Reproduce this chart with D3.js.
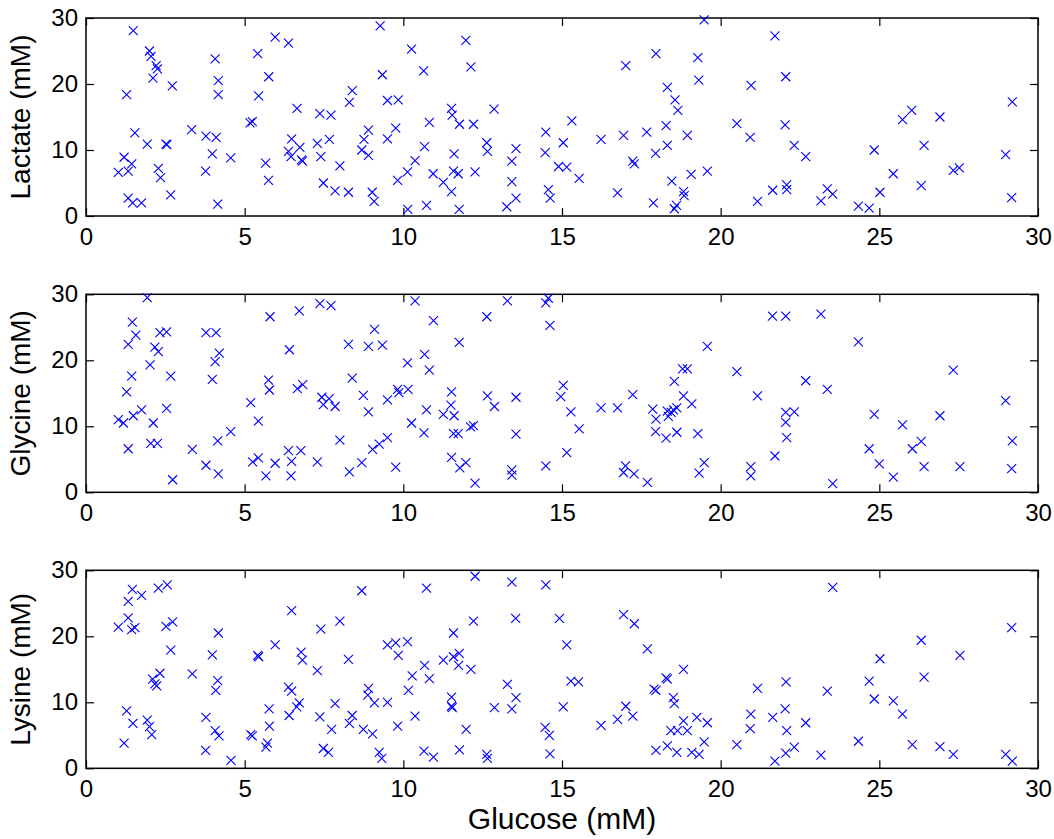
<!DOCTYPE html>
<html><head><meta charset="utf-8">
<script src="https://cdn.jsdelivr.net/npm/d3@7"></script>
<style>body{margin:0;background:#fff;} svg{display:block;font-family:"Liberation Sans",Arial,sans-serif;}</style>
</head><body>
<svg id="c" width="1054" height="839"></svg>
<script>
const xTicks = [0,5,10,15,20,25,30];
const yTicks = [0,10,20,30];
const xLabel = "Glucose (mM)";
const panelLabels = ["Lactate (mM)","Glycine (mM)","Lysine (mM)"];

const lactate = [[1.49,28.1],[2.0,25.0],[2.05,24.2],[2.21,22.8],[2.25,22.3],[2.11,20.9],[2.72,19.7],[1.28,18.4],[4.07,23.8],[4.17,20.5],[4.17,18.4],[5.41,24.6],[5.96,27.1],[6.38,26.2],[5.76,21.1],[5.44,18.2],[6.65,16.3],[7.37,15.5],[7.72,15.3],[1.54,12.6],[1.93,10.9],[2.52,10.9],[2.55,10.8],[3.33,13.1],[3.78,12.1],[4.10,11.9],[3.98,9.4],[4.56,8.8],[1.20,8.9],[1.44,7.9],[1.02,6.6],[1.33,6.8],[2.28,7.2],[2.35,5.8],[3.77,6.8],[1.33,2.7],[1.47,2.0],[1.75,2.0],[2.67,3.2],[4.15,1.8],[5.17,14.1],[5.24,14.3],[6.48,11.7],[6.74,10.4],[6.38,9.8],[6.46,9.0],[6.79,8.5],[6.82,8.3],[7.29,11.0],[7.40,9.0],[7.67,11.6],[5.66,8.0],[5.75,5.4],[7.48,5.0],
[9.27,28.8],[10.26,25.3],[11.97,26.6],[12.13,22.6],[10.64,22.0],[9.34,21.4],[8.39,19.0],[8.30,17.2],[9.50,17.5],[9.84,17.6],[11.52,16.3],[11.54,15.3],[11.77,13.9],[12.21,13.9],[12.86,16.2],[10.82,14.2],[8.90,13.0],[8.76,11.6],[8.69,10.0],[8.90,9.2],[9.76,13.3],[9.50,11.7],[8.00,7.6],[7.85,3.8],[8.27,3.6],[9.02,3.6],[9.08,2.2],[9.82,5.4],[10.13,6.7],[10.37,8.4],[10.67,10.5],[10.14,1.0],[10.73,1.6],[10.94,6.4],[11.26,5.1],[11.52,3.7],[11.58,6.8],[11.73,6.4],[11.60,9.4],[11.76,1.0],[12.26,6.7],[12.63,11.1],[12.65,9.8],[13.55,10.2],[13.42,8.3],[13.42,5.2],[13.26,1.4],[13.55,2.7],[14.49,12.7],[14.47,9.6],[15.04,11.1],[14.89,7.5],[15.15,7.4],[14.57,4.0],[14.63,2.7],[15.31,14.4],
[19.48,29.7],[21.71,27.3],[17.96,24.6],[19.28,24.0],[17.01,22.8],[19.31,20.6],[18.32,19.5],[20.96,19.8],[22.05,21.1],[18.56,17.6],[18.65,16.0],[16.23,11.6],[16.94,12.2],[17.67,12.7],[18.28,13.7],[18.95,12.2],[18.32,10.7],[17.95,9.5],[20.51,14.0],[20.93,11.9],[22.03,13.8],[22.32,10.7],[22.68,9.0],[15.54,5.7],[17.23,8.3],[17.28,7.9],[16.75,3.5],[17.88,2.0],[18.46,5.3],[19.07,6.3],[19.58,6.8],[18.83,3.7],[18.85,3.1],[18.61,1.6],[18.54,1.1],[21.16,2.2],[21.64,3.9],[22.08,4.7],[22.08,4.0],
[29.19,17.3],[26.02,16.0],[25.73,14.6],[26.91,15.0],[26.41,10.7],[24.84,10.0],[28.98,9.3],[25.44,6.4],[27.33,6.9],[27.52,7.3],[26.32,4.6],[25.02,3.6],[23.36,4.1],[23.53,3.3],[23.16,2.3],[24.34,1.5],[24.68,1.2],[29.17,2.8]];

const glycine = [[1.93,29.5],[1.46,25.8],[1.57,23.8],[1.33,22.4],[2.33,24.2],[2.54,24.3],[2.17,22.0],[2.28,21.3],[2.02,19.3],[1.44,17.6],[2.67,17.6],[1.28,15.2],[3.78,24.2],[4.10,24.2],[4.20,21.1],[4.07,19.8],[3.98,17.1],[1.02,11.0],[1.18,10.5],[1.49,11.6],[1.75,12.5],[2.12,10.5],[2.54,12.7],[1.33,6.6],[2.04,7.4],[2.25,7.4],[2.73,1.9],[3.35,6.5],[3.78,4.1],[4.15,7.8],[4.56,9.2],[4.17,2.8],[5.80,26.6],[6.72,27.5],[7.37,28.6],[7.72,28.3],[6.41,21.6],[5.75,17.0],[5.78,15.5],[6.66,15.7],[6.83,16.3],[7.43,14.4],[7.66,14.2],[7.48,13.3],[7.85,13.0],[5.19,13.6],[5.43,10.8],[5.25,4.6],[5.43,5.2],[5.96,4.4],[5.67,2.5],[6.38,6.3],[6.48,4.7],[6.77,6.3],[6.46,2.5],[7.29,4.6],
[10.37,29.0],[10.95,26.0],[9.09,24.7],[8.27,22.4],[8.90,22.1],[9.34,22.3],[11.76,22.7],[13.28,29.0],[12.63,26.6],[14.57,29.4],[14.49,28.7],[14.62,25.3],[10.13,19.6],[10.67,20.9],[10.82,18.5],[8.39,17.3],[8.74,14.7],[8.90,12.2],[9.50,14.0],[9.82,15.6],[9.86,15.1],[10.15,15.6],[8.00,7.9],[8.30,3.1],[8.69,4.5],[9.03,6.5],[9.24,7.3],[9.50,8.3],[9.76,3.8],[10.26,10.5],[10.65,9.0],[10.73,12.5],[11.26,11.8],[11.52,15.2],[11.50,13.2],[11.60,11.6],[11.58,8.9],[11.73,8.9],[11.52,5.3],[11.78,3.7],[11.97,4.5],[12.12,9.9],[12.21,10.1],[12.26,1.4],[12.65,14.6],[12.87,13.0],[13.55,14.4],[13.55,8.8],[13.42,3.4],[13.42,2.6],[14.49,4.0],[14.96,14.5],[15.04,16.2],[15.28,12.2],[15.15,6.0],
[15.54,9.6],[16.23,12.8],[16.75,12.8],[17.23,14.8],[17.0,4.0],[16.94,3.0],[17.27,2.8],[17.69,1.5],[17.86,12.6],[17.96,11.1],[17.95,9.2],[18.28,8.2],[18.32,12.3],[18.35,11.5],[18.51,12.5],[18.62,12.8],[18.44,12.1],[18.62,9.1],[18.54,16.8],[18.83,14.6],[18.80,18.7],[18.95,18.7],[19.09,13.4],[19.28,8.9],[19.58,22.1],[19.48,4.5],[19.32,2.9],[20.51,18.3],[21.16,14.6],[20.95,3.9],[20.95,2.5],[21.71,5.5],[21.63,26.7],[22.05,26.7],[22.05,12.1],[22.32,12.2],[22.05,10.6],[22.08,8.3],[22.68,16.9],
[23.16,27.0],[24.34,22.8],[23.36,15.6],[27.33,18.5],[28.98,13.9],[24.84,11.8],[26.91,11.6],[25.73,10.2],[26.32,7.7],[26.04,6.6],[24.68,6.6],[25.0,4.3],[25.44,2.3],[26.41,3.9],[27.54,3.9],[23.53,1.3],[29.19,7.8],[29.17,3.6]];

const lysine = [[1.46,27.1],[1.75,26.2],[1.33,25.3],[2.28,27.3],[2.56,27.8],[1.33,22.8],[1.02,21.4],[1.44,21.0],[1.54,21.3],[2.52,21.5],[2.73,22.2],[2.67,17.9],[4.17,20.5],[3.98,17.2],[6.48,23.9],[7.40,21.1],[5.96,18.7],[5.41,17.1],[5.44,16.9],[6.78,17.6],[6.82,16.4],[7.29,14.8],[3.35,14.3],[2.33,14.4],[2.10,13.5],[2.23,12.5],[2.17,12.8],[4.15,13.3],[4.09,11.8],[1.28,8.7],[1.48,6.8],[1.93,7.3],[2.0,6.3],[2.07,5.1],[1.20,3.8],[3.78,7.7],[4.07,5.7],[4.19,4.9],[3.77,2.7],[4.57,1.2],[6.38,12.3],[6.48,11.7],[6.72,9.9],[6.64,9.3],[6.40,8.0],[5.77,9.0],[5.78,6.4],[5.19,5.1],[5.24,4.9],[5.72,3.8],[5.67,3.2],[7.37,7.8],[7.48,3.0],[7.64,2.4],
[8.69,26.9],[10.73,27.3],[12.26,29.1],[13.42,28.2],[14.49,27.8],[8.00,22.3],[12.21,22.3],[13.54,22.7],[14.92,22.7],[11.58,20.5],[15.15,18.7],[9.50,18.7],[9.76,19.0],[10.13,19.2],[9.84,17.1],[8.27,16.5],[10.67,15.6],[10.28,14.0],[10.82,13.6],[11.26,16.4],[11.58,16.9],[11.76,17.4],[11.74,15.6],[12.13,15.0],[10.16,11.8],[8.90,12.1],[8.88,11.1],[9.09,9.9],[9.50,10.0],[7.85,9.8],[8.39,8.0],[8.30,6.8],[7.74,5.9],[8.74,5.9],[9.03,5.2],[9.82,6.4],[10.37,7.9],[9.24,2.4],[9.32,1.5],[10.65,2.6],[10.95,1.7],[11.77,2.8],[11.98,5.9],[11.52,10.8],[11.52,9.4],[11.54,9.2],[12.63,2.1],[12.65,1.5],[12.87,9.2],[13.28,12.7],[13.55,10.7],[13.42,9.0],[14.47,6.2],[14.60,5.0],[14.62,2.2],[15.04,9.3],[15.28,13.2],[15.52,13.1],
[16.94,23.3],[17.28,21.9],[17.69,18.1],[18.83,15.0],[18.28,13.7],[18.32,13.5],[17.90,12.0],[17.96,11.8],[18.51,10.7],[18.54,9.8],[17.01,9.4],[17.23,7.9],[16.75,7.4],[16.23,6.5],[18.83,7.2],[19.25,7.7],[19.58,6.9],[18.43,5.7],[18.64,5.7],[18.95,5.7],[19.48,4.0],[17.96,2.7],[18.32,3.4],[18.62,2.4],[19.09,2.4],[19.32,2.1],[20.51,3.6],[21.16,12.1],[22.06,13.1],[20.95,8.2],[20.93,6.0],[21.64,7.7],[22.03,9.0],[22.08,5.7],[22.68,6.9],[21.71,1.1],[22.05,2.3],[22.32,3.2],
[23.53,27.4],[29.17,21.3],[26.32,19.4],[27.54,17.1],[25.02,16.6],[26.41,13.8],[24.68,13.2],[23.36,11.7],[24.84,10.5],[25.44,10.2],[25.73,8.2],[24.34,4.1],[26.04,3.6],[26.91,3.3],[27.33,2.1],[28.98,2.1],[29.19,1.1],[23.16,2.0]];

const seriesList = [lactate, glycine, lysine];

const svg = d3.select("#c");
const left = 86, right = 1038;
const tops = [18, 294.3, 570.3];
const ph = 198;
const x = d3.scaleLinear().domain([0,30]).range([left,right]);
const tickLen = 8;
const tickFont = 24;
const blue = "#0000ff";

seriesList.forEach((data, i) => {
  const top = tops[i], bottom = top + ph;
  const y = d3.scaleLinear().domain([0,30]).range([bottom, top]);
  const g = svg.append("g");
  const xb = g.append("g").attr("transform", `translate(0,${bottom})`)
    .call(d3.axisBottom(x).tickValues(xTicks).tickSizeInner(-tickLen).tickSizeOuter(0).tickPadding(12));
  const xt = g.append("g").attr("transform", `translate(0,${top})`)
    .call(d3.axisTop(x).tickValues(xTicks).tickSizeInner(-tickLen).tickSizeOuter(0).tickFormat(""));
  const yl = g.append("g").attr("transform", `translate(${left},0)`)
    .call(d3.axisLeft(y).tickValues(yTicks).tickSizeInner(-tickLen).tickSizeOuter(0).tickPadding(8));
  const yr = g.append("g").attr("transform", `translate(${right},0)`)
    .call(d3.axisRight(y).tickValues(yTicks).tickSizeInner(-tickLen).tickSizeOuter(0).tickFormat(""));
  [xb, xt, yl, yr].forEach(a => {
    a.select(".domain").remove();
    a.selectAll(".tick line").attr("stroke", "#000").attr("stroke-width", 1.2);
    a.selectAll("text").attr("font-size", tickFont).attr("fill", "#000")
      .attr("font-family", '"Liberation Sans", Arial, sans-serif');
  });
  g.append("rect").attr("x", left).attr("y", top).attr("width", right-left).attr("height", ph)
    .attr("fill", "none").attr("stroke", "#000").attr("stroke-width", 1.5);
  g.append("g").selectAll("path").data(data).join("path")
    .attr("transform", d => `translate(${x(d[0])},${y(d[1])})`)
    .attr("d", "M-4.5,-4.5L4.5,4.5M-4.5,4.5L4.5,-4.5")
    .attr("stroke", blue).attr("stroke-width", 1.1).attr("fill", "none");
  svg.append("text").attr("transform", `translate(30,${top+ph/2}) rotate(-90)`)
    .attr("text-anchor", "middle").attr("font-size", 28).attr("fill", "#000")
    .text(panelLabels[i]);
});

svg.append("text").attr("x", (left+right)/2).attr("y", 829)
  .attr("text-anchor", "middle").attr("font-size", 30).attr("fill", "#000").text(xLabel);
</script>
</body></html>
